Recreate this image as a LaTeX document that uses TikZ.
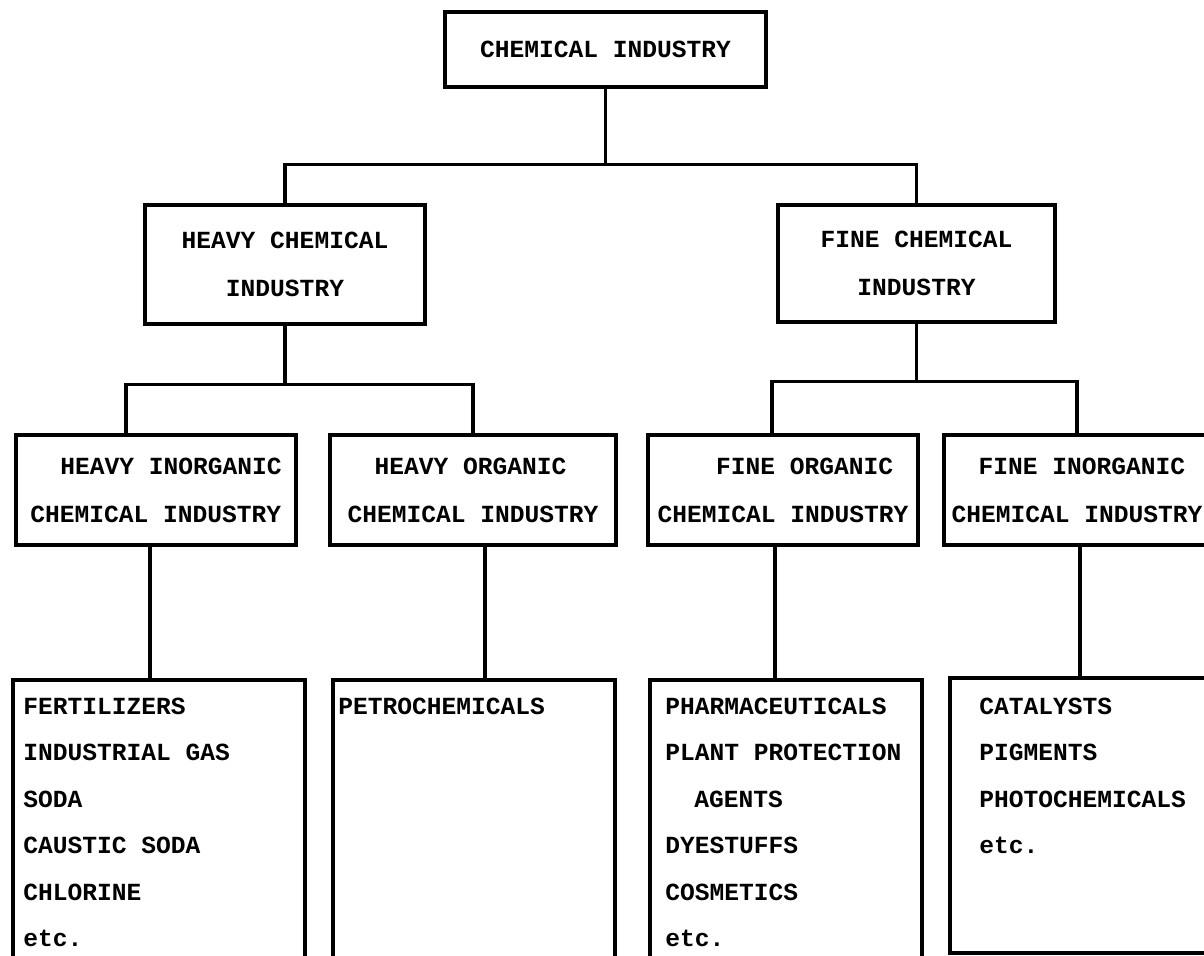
\documentclass[tikz,border=0pt]{standalone}
\usepackage{fontspec}
\setmonofont{Liberation Mono}
\usepackage{tikz}
\usetikzlibrary{calc}

\begin{document}
\begin{tikzpicture}[x=0.02cm,y=-0.02cm]
            \tikzstyle{box}=[rectangle,draw=black,line width=1.8pt,inner sep=0pt,font=\ttfamily\bfseries\fontsize{14}{27.3}\selectfont]
            \tikzstyle{item}=[anchor=base west,inner sep=0pt,font=\ttfamily\bfseries\fontsize{14}{17}\selectfont]
            \tikzstyle{link}=[line width=1.8pt]
            \useasboundingbox (0,0) rectangle (1204,956);
            \clip (0,0) rectangle (1204,956);
            \node[box,minimum width=6.42cm,minimum height=1.5cm] (chem) at (605.5,49.5) {CHEMICAL INDUSTRY};
            \node[box,align=center,minimum width=5.6cm,minimum height=2.38cm] (heavy) at (285,264.5) {HEAVY CHEMICAL\\INDUSTRY};
            \node[box,align=center,minimum width=5.54cm,minimum height=2.34cm] (fine) at (916.5,263.5) {FINE CHEMICAL\\INDUSTRY};
            \node[box,align=left,minimum width=5.6cm,minimum height=2.2cm] (hi) at (156,490) {\hspace*{0.6cm}HEAVY INORGANIC\\CHEMICAL INDUSTRY};
            \node[box,align=left,minimum width=5.72cm,minimum height=2.2cm] (ho) at (473,490) {\hspace*{0.54cm}HEAVY ORGANIC\\CHEMICAL INDUSTRY};
            \node[box,align=left,minimum width=5.4cm,minimum height=2.2cm] (fo) at (783,490) {\hspace*{1.17cm}FINE ORGANIC\\CHEMICAL INDUSTRY};
            \node[box,align=left,minimum width=5.32cm,minimum height=2.2cm] (fi) at (1077,490) {\hspace*{0.54cm}FINE INORGANIC\\CHEMICAL INDUSTRY};
            \node[box,minimum width=5.84cm,minimum height=6.6cm] (hil) at (159,845) {};
            \node[box,minimum width=5.64cm,minimum height=6.6cm] (hol) at (474,845) {};
            \node[box,minimum width=5.44cm,minimum height=6.6cm] (fol) at (786,845) {};
            \node[box,minimum width=5.3cm,minimum height=5.5cm] (fil) at (1082.5,815.5) {};
            \node[item] (fert) at (23,714) {FERTILIZERS};
            \node[item] (gas) at (23,760) {INDUSTRIAL GAS};
            \node[item] (soda) at (23,807) {SODA};
            \node[item] (caustic) at (23,853) {CAUSTIC SODA};
            \node[item] (chlor) at (23,900) {CHLORINE};
            \node[item] (etca) at (23,946) {etc.};
            \node[item] (petro) at (338,714) {PETROCHEMICALS};
            \node[item] (pharma) at (665,714) {PHARMACEUTICALS};
            \node[item] (plant) at (665,760) {PLANT PROTECTION};
            \node[item] (agents) at (694,807) {AGENTS};
            \node[item] (dyes) at (665,853) {DYESTUFFS};
            \node[item] (cosm) at (665,900) {COSMETICS};
            \node[item] (etcc) at (665,946) {etc.};
            \node[item] (cat) at (979,714) {CATALYSTS};
            \node[item] (pig) at (979,760) {PIGMENTS};
            \node[item] (photo) at (979,807) {PHOTOCHEMICALS};
            \node[item] (etcd) at (979,853) {etc.};
            \draw[link] (chem.south) -- ++(0,76) coordinate (c1);
            \draw[link] (heavy.north) |- (c1) -| (fine.north);
            \draw[link] (heavy.south) -- ++(0,59) coordinate (c2);
            \draw[link] ([xshift=-0.6cm]hi.north) |- (c2) -| (ho.north);
            \draw[link] (fine.south) -- ++(0,58) coordinate (c3);
            \draw[link] ([xshift=-0.22cm]fo.north) |- (c3) -| (fi.north);
            \draw[link] ([xshift=-0.12cm]hi.south) -- ([xshift=-0.12cm]hi.south |- hil.north);
            \draw[link] ([xshift=0.24cm]ho.south) -- ([xshift=0.24cm]ho.south |- hol.north);
            \draw[link] ([xshift=-0.16cm]fo.south) -- ([xshift=-0.16cm]fo.south |- fol.north);
            \draw[link] ([xshift=0.06cm]fi.south) -- ([xshift=0.06cm]fi.south |- fil.north);
\end{tikzpicture}
\end{document}
